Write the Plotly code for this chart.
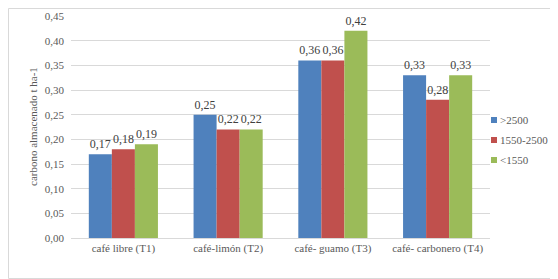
import plotly.graph_objects as go

categories = ["café libre (T1)", "café-limón (T2)", "café- guamo (T3)", "café- carbonero (T4)"]
series_names = [">2500", "1550-2500", "<1550"]
s_gt2500 = [0.17, 0.25, 0.36, 0.33]
s_1550_2500 = [0.18, 0.22, 0.36, 0.28]
s_lt1550 = [0.19, 0.22, 0.42, 0.33]
colors = ["#4F81BD", "#C0504D", "#9BBB59"]
y_title = "carbono almacenado t ha-1"

font_family = "Liberation Serif"
W, H = 558, 279
OX, OY = 8, 7  # observed page offset of the figure in the window
# plot area in window pixels (from reference)
PL, PR, PT, PB = 71, 490, 15, 237
L, T = PL - OX, PT - OY
R, B = W - (PR - OX), H - (PB - OY)
pw, ph = PR - PL, PB - PT


def px(xw):
    return (xw - PL) / pw


def py(yw):
    return (PB - yw) / ph


fig = go.Figure()
for name, vals, col in zip(series_names, [s_gt2500, s_1550_2500, s_lt1550], colors):
    fig.add_trace(go.Bar(
        x=categories, y=vals, name=name, marker_color=col, marker_line_width=0,
        texttemplate="%{y:.2f}", textposition="outside", cliponaxis=False,
        textfont=dict(family=font_family, size=12, color="#404040"),
        showlegend=False,
    ))

shapes = [dict(type="rect", xref="paper", yref="paper",
               x0=px(OX + 0.5), x1=px(W - 1.5), y0=py(H - 1.5), y1=py(OY + 0.5),
               line=dict(color="#D9D9D9", width=1), fillcolor="rgba(0,0,0,0)", layer="below")]
annotations = [dict(xref="paper", yref="paper", x=px(33), y=py(126), textangle=-90,
                    xanchor="center", yanchor="middle", showarrow=False, text=y_title,
                    font=dict(family=font_family, size=11, color="#595959"))]
leg_y = [119, 139, 159]
for name, col, yw in zip(series_names, colors, leg_y):
    shapes.append(dict(type="rect", xref="paper", yref="paper",
                       x0=px(491), x1=px(497), y0=py(yw + 3), y1=py(yw - 3),
                       line=dict(width=0), fillcolor=col))
    annotations.append(dict(xref="paper", yref="paper", x=px(498), y=py(yw),
                            xanchor="left", yanchor="middle", showarrow=False,
                            text=name, font=dict(family=font_family, size=11, color="#595959")))

fig.update_layout(
    width=W, height=H,
    margin=dict(l=L, r=R, t=T, b=B, autoexpand=False),
    paper_bgcolor="white", plot_bgcolor="white",
    separators=",.",
    barmode="group", bargap=0.34, bargroupgap=0,
    font=dict(family=font_family, size=11, color="#595959"),
    showlegend=False,
    xaxis=dict(showgrid=False, showline=True, linecolor="#D9D9D9", linewidth=1,
               ticks="", automargin=False,
               tickfont=dict(family=font_family, size=11, color="#595959")),
    yaxis=dict(range=[0, 0.45], dtick=0.05, tickformat=".2f", automargin=False,
               showgrid=True, gridcolor="#D9D9D9", gridwidth=1, zeroline=False,
               showline=False, ticks="", ticklen=0, ticklabelstandoff=6,
               tickfont=dict(family=font_family, size=11, color="#595959")),
    shapes=shapes,
    annotations=annotations,
)

fig.write_html("out.html")
